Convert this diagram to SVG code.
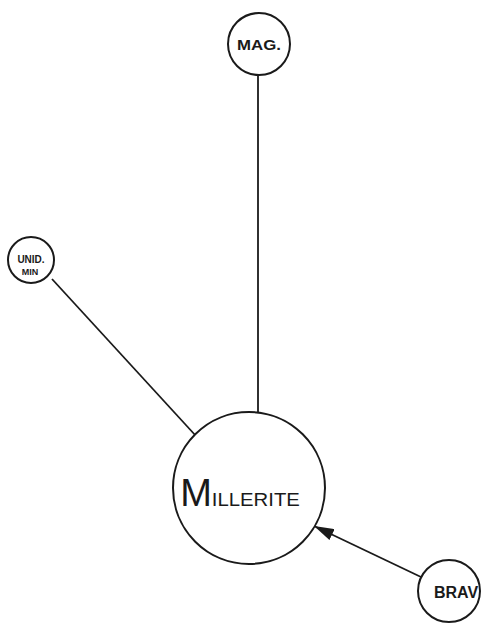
<svg xmlns="http://www.w3.org/2000/svg" width="484" height="628" viewBox="0 0 484 628">
<defs>
<style>
.node{fill:#fff;stroke:#1a1a1a;stroke-width:2}
.edge{stroke:#1a1a1a;stroke-width:1.8;fill:none}
.lbl{font-family:"Liberation Sans",Arial,sans-serif;fill:#1a1a1a;text-anchor:middle}
</style>
<marker id="arrow" viewBox="0 0 20 12" refX="20" refY="6" markerWidth="20" markerHeight="12" markerUnits="userSpaceOnUse" orient="auto">
<path d="M0,0 L20,6 L0,12 Z" fill="#1a1a1a"/>
</marker>
</defs>
<rect width="484" height="628" fill="#fff"/>
<g id="connectors">
<line class="edge" x1="258" y1="75" x2="258" y2="413"/>
<line class="edge" x1="52" y1="279" x2="196" y2="436"/>
<line class="edge" x1="421" y1="577" x2="314" y2="526" marker-end="url(#arrow)"/>
</g>
<g id="mag">
<circle class="node" cx="259" cy="44" r="31"/>
<text class="lbl" x="259" y="50" font-size="15" font-weight="bold" textLength="44" lengthAdjust="spacingAndGlyphs">MAG.</text>
</g>
<g id="unid-min">
<circle class="node" cx="31" cy="260" r="23"/>
<text class="lbl" x="31" y="263" font-size="10" font-weight="bold">UNID.</text>
<text class="lbl" x="30" y="275" font-size="9" font-weight="bold">MIN</text>
</g>
<g id="millerite">
<circle class="node" cx="249" cy="488" r="76"/>
<text class="lbl" x="240" y="506" style="text-anchor:middle"><tspan font-size="38">M</tspan><tspan font-size="19" textLength="88" lengthAdjust="spacingAndGlyphs">ILLERITE</tspan></text>
</g>
<g id="brav">
<circle class="node" cx="449" cy="591" r="31"/>
<text class="lbl" x="456" y="598" font-size="16" font-weight="bold">BRAV</text>
</g>
</svg>
